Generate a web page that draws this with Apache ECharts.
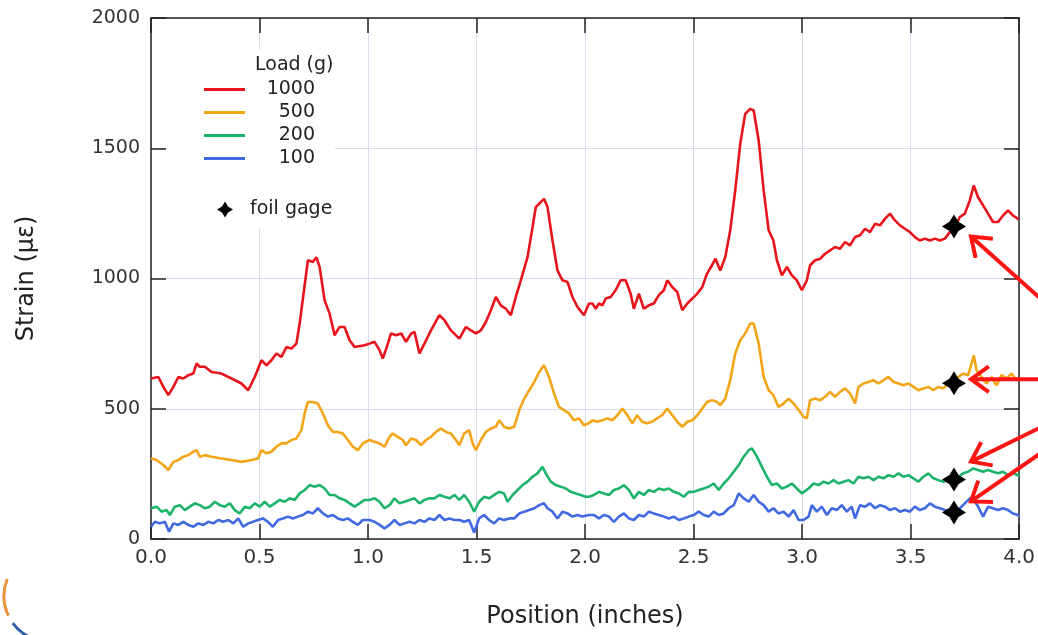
<!DOCTYPE html>
<html>
<head>
<meta charset="utf-8">
<title>Strain vs position</title>
<script src="https://cdn.jsdelivr.net/npm/echarts@6/dist/echarts.min.js"></script>
<style>
  html, body { margin: 0; padding: 0; background: #fff; }
  #chart { width: 1038px; height: 635px; }
</style>
</head>
<body>
<div id="chart"></div>
<script>
// values (position in inches, strain in microstrain)
const posRed = [0,0.034,0.057,0.080,0.103,0.126,0.149,0.172,0.195,0.210,0.225,0.248,0.279,0.325,0.371,0.417,0.448,0.478,0.509,0.532,0.555,0.578,0.601,0.624,0.647,0.670,0.685,0.705,0.723,0.746,0.762,0.777,0.800,0.823,0.846,0.869,0.892,0.915,0.938,0.984,1.007,
  1.030,1.053,1.068,1.084,1.106,1.130,1.153,1.175,1.199,1.214,1.237,1.260,1.290,1.329,1.352,1.382,1.421,1.451,1.474,1.497,1.520,1.543,1.566,1.589,1.612,1.635,1.658,1.681,1.704,1.735,1.758,1.773,1.796,1.811,1.827,1.850,1.873,1.896,1.919,1.942,1.965,1.995,2.018,
  2.034,2.049,2.064,2.080,2.095,2.118,2.141,2.164,2.187,2.210,2.225,2.248,2.271,2.294,2.317,2.340,2.363,2.379,2.402,2.425,2.448,2.471,2.494,2.517,2.540,2.562,2.585,2.601,2.623,2.646,2.669,2.692,2.715,2.738,2.761,2.777,2.800,2.823,2.846,2.868,2.884,2.907,2.930,2.953,2.976,2.999,
  3.007,3.022,3.037,3.060,3.084,3.106,3.129,3.152,3.175,3.198,3.221,3.244,3.267,3.290,3.313,3.336,3.359,3.382,3.405,3.428,3.451,3.474,3.497,3.520,3.543,3.566,3.589,3.612,3.635,3.658,3.681,3.704,3.727,3.750,3.773,3.791,3.811,3.834,3.857,3.880,3.903,3.926,3.949,3.972,3.995,4.0];
const strainRed = [616,622,584,552,584,622,616,629,635,674,661,661,641,635,616,597,571,622,686,667,686,712,699,737,731,750,827,955,1070,1063,1082,1044,916,865,782,814,814,763,737,744,750,
  757,725,693,731,789,782,789,757,789,795,712,750,801,859,840,801,769,814,801,789,801,833,878,929,897,884,859,929,993,1082,1197,1274,1293,1306,1274,1146,1031,993,987,929,891,859,904,
  904,884,904,897,923,929,955,993,993,942,884,942,884,897,904,936,955,993,967,948,878,904,923,942,967,1019,1051,1076,1031,1082,1185,1338,1517,1632,1651,1645,1530,1338,1185,1146,1070,1012,1044,1012,993,955,
  948,993,1051,1070,1076,1095,1108,1121,1114,1140,1127,1159,1166,1191,1178,1210,1204,1229,1249,1223,1204,1191,1178,1159,1146,1153,1146,1153,1146,1153,1178,1197,1236,1249,1300,1357,1312,1281,1249,1217,1217,1242,1261,1242,1229,1229];

const posOrange = [0,0.026,0.057,0.080,0.103,0.126,0.149,0.172,0.195,0.210,0.225,0.248,0.279,0.325,0.371,0.417,0.463,0.493,0.509,0.532,0.555,0.578,0.601,0.624,0.647,0.670,0.693,0.708,0.723,0.746,0.769,0.792,0.815,0.838,0.861,0.884,0.907,0.930,0.953,0.976,1.007,
  1.030,1.053,1.076,1.099,1.114,1.137,1.160,1.175,1.199,1.221,1.244,1.267,1.290,1.313,1.336,1.359,1.382,1.405,1.421,1.443,1.466,1.482,1.497,1.520,1.543,1.566,1.589,1.604,1.627,1.650,1.674,1.697,1.720,1.743,1.766,1.789,1.811,1.834,1.857,1.880,1.903,1.926,1.949,1.972,1.995,2.018,
  2.034,2.057,2.080,2.103,2.126,2.149,2.172,2.195,2.218,2.240,2.263,2.286,2.309,2.332,2.355,2.379,2.402,2.425,2.448,2.471,2.494,2.517,2.540,2.562,2.585,2.608,2.623,2.646,2.669,2.692,2.715,2.738,2.761,2.777,2.800,2.823,2.846,2.868,2.891,2.915,2.938,2.961,2.984,
  3.007,3.022,3.037,3.060,3.084,3.106,3.129,3.152,3.175,3.198,3.221,3.244,3.260,3.283,3.306,3.329,3.352,3.375,3.398,3.421,3.444,3.467,3.490,3.513,3.536,3.559,3.582,3.605,3.628,3.651,3.674,3.697,3.720,3.742,3.765,3.781,3.791,3.804,3.827,3.850,3.873,3.896,3.919,3.942,3.965,3.988,4.0];
const strainOrange = [309,303,284,265,296,303,316,322,335,341,316,322,316,309,303,296,303,309,341,329,335,354,367,367,380,386,418,482,526,526,520,482,437,411,411,405,380,354,341,367,380,
  373,367,354,392,405,392,380,360,386,380,360,380,392,411,424,411,405,380,360,405,418,367,341,380,411,424,431,456,431,424,431,495,539,571,603,641,667,622,559,507,495,482,456,463,437,444,
  456,450,456,463,456,475,501,475,444,475,450,444,450,463,475,501,475,450,431,450,456,475,501,526,533,526,514,539,610,712,763,789,827,827,750,622,571,552,507,520,539,520,495,
  469,463,533,539,533,546,565,546,565,578,559,520,584,597,603,610,597,610,622,603,597,590,597,584,571,578,584,571,584,578,597,616,622,635,629,674,705,648,622,597,622,590,629,616,635,610,616];

const posGreen = [0,0.026,0.049,0.072,0.087,0.110,0.133,0.156,0.179,0.202,0.225,0.248,0.271,0.294,0.317,0.340,0.363,0.386,0.409,0.432,0.455,0.478,0.501,0.524,0.547,0.570,0.593,0.616,0.639,0.662,0.685,0.708,0.731,0.754,0.777,0.800,0.823,0.846,0.869,0.892,0.915,0.938,0.961,0.984,1.007,
  1.030,1.053,1.076,1.099,1.122,1.145,1.168,1.191,1.214,1.237,1.260,1.283,1.306,1.329,1.352,1.375,1.398,1.421,1.443,1.466,1.489,1.512,1.535,1.558,1.581,1.604,1.627,1.643,1.666,1.689,1.712,1.735,1.758,1.781,1.804,1.819,1.842,1.865,1.888,1.911,1.934,1.957,1.980,2.003,2.018,
  2.041,2.064,2.087,2.110,2.133,2.156,2.179,2.202,2.225,2.248,2.271,2.294,2.317,2.340,2.363,2.386,2.409,2.432,2.455,2.478,2.501,2.524,2.547,2.570,2.593,2.616,2.639,2.662,2.685,2.708,2.731,2.754,2.769,2.792,2.815,2.838,2.861,2.884,2.907,2.930,2.953,2.976,2.999,
  3.007,3.030,3.053,3.076,3.099,3.122,3.145,3.168,3.191,3.214,3.237,3.260,3.283,3.306,3.329,3.352,3.375,3.398,3.421,3.444,3.467,3.490,3.513,3.536,3.559,3.582,3.605,3.628,3.651,3.674,3.697,3.720,3.742,3.765,3.788,3.811,3.834,3.857,3.880,3.903,3.926,3.949,3.972,3.995,4.0];
const strainGreen = [118,124,105,111,92,124,130,111,124,137,130,118,124,143,130,124,137,111,98,124,118,137,124,143,124,137,150,143,156,150,175,188,207,201,207,194,169,169,156,150,137,124,137,150,150,
  156,143,118,130,156,137,143,150,156,137,150,156,156,169,162,156,169,150,169,143,105,143,162,156,169,181,175,143,169,188,207,220,239,252,277,252,220,207,201,194,181,175,169,162,162,
  169,181,175,169,188,194,207,188,156,181,169,188,181,194,188,194,181,175,162,181,181,188,194,201,213,188,213,233,258,284,316,341,348,316,277,239,207,213,194,201,213,194,175,
  181,194,213,207,220,213,226,213,220,226,213,239,233,239,226,239,233,245,239,252,239,245,233,220,239,252,233,226,220,226,233,239,252,258,271,265,258,265,258,252,258,245,252,245,252];

const posBlue = [0,0.018,0.041,0.064,0.083,0.103,0.126,0.149,0.172,0.195,0.218,0.241,0.264,0.287,0.310,0.333,0.356,0.379,0.402,0.425,0.448,0.470,0.493,0.516,0.539,0.562,0.585,0.608,0.631,0.654,0.677,0.700,0.723,0.746,0.769,0.792,0.815,0.838,0.861,0.884,0.907,0.930,0.953,0.976,1.007,
  1.030,1.053,1.076,1.099,1.122,1.145,1.168,1.191,1.214,1.237,1.260,1.283,1.306,1.329,1.352,1.375,1.398,1.421,1.443,1.466,1.489,1.512,1.535,1.558,1.581,1.604,1.627,1.650,1.674,1.697,1.720,1.743,1.766,1.789,1.811,1.827,1.850,1.873,1.896,1.919,1.942,1.965,1.988,2.018,
  2.041,2.064,2.087,2.110,2.133,2.156,2.179,2.202,2.225,2.248,2.271,2.294,2.317,2.340,2.363,2.386,2.409,2.432,2.455,2.478,2.501,2.524,2.547,2.570,2.593,2.616,2.639,2.662,2.685,2.708,2.731,2.754,2.777,2.800,2.823,2.846,2.868,2.891,2.915,2.938,2.961,2.984,
  3.007,3.030,3.045,3.068,3.091,3.114,3.137,3.160,3.183,3.206,3.229,3.244,3.267,3.290,3.313,3.336,3.359,3.382,3.405,3.428,3.451,3.474,3.497,3.520,3.543,3.566,3.589,3.612,3.635,3.658,3.681,3.704,3.727,3.750,3.773,3.788,3.811,3.834,3.857,3.880,3.903,3.926,3.949,3.972,3.995,4.0];
const strainBlue = [47,66,60,66,28,60,54,66,54,47,60,54,66,60,73,66,73,60,79,47,60,66,73,79,66,47,73,79,86,79,86,92,105,98,118,98,86,92,79,73,79,66,54,73,73,
  66,54,41,54,73,54,60,66,60,73,66,79,73,92,73,79,73,73,66,73,25,79,92,73,60,79,73,79,79,98,105,111,118,130,137,118,105,79,105,98,86,92,86,92,
  92,79,92,86,66,86,98,79,73,92,86,105,98,92,86,79,86,73,79,86,92,105,92,86,105,92,98,118,130,175,156,143,169,143,130,105,118,98,105,86,111,73,
  73,86,130,105,124,92,118,111,130,105,124,79,130,124,137,118,130,124,111,118,105,111,105,124,111,118,137,124,118,111,105,111,118,137,156,156,124,86,124,118,111,118,111,98,92,86];

// foil gage readings
const gagePos = 3.7;
const gageStrain = [1200, 598, 228, 102];

const loads = ['1000', '500', '200', '100'];
const lineColors = ['#e8141c', '#f2a516', '#1db36a', '#4169e1'];
const xTicks = { min: 0, max: 4, step: 0.5 };
const yTicks = { min: 0, max: 2000, step: 500 };

const FONT = 'DejaVu Sans';
const STAR = 'path://M10,0 L13.8,6.2 L20,10 L13.8,13.8 L10,20 L6.2,13.8 L0,10 L6.2,6.2 Z';

function pairs(xs, ys) {
  return xs.map((x, i) => [x, ys[i]]);
}

const lineData = [
  pairs(posRed, strainRed),
  pairs(posOrange, strainOrange),
  pairs(posGreen, strainGreen),
  pairs(posBlue, strainBlue)
];

const chart = echarts.init(document.getElementById('chart'), null, { renderer: 'canvas' });

// frame axes: bottom/left carry labels, top/right only ticks
const tickStyle = { show: true, inside: true, length: 15, lineStyle: { color: '#222', width: 1.5 } };
const frameLine = { show: true, onZero: false, lineStyle: { color: '#222', width: 1.5 } };

const option = {
  animation: false,
  backgroundColor: '#fff',
  title: {
    text: 'Load (g)',
    left: 255,
    top: 56,
    padding: 0,
    textStyle: { fontFamily: FONT, fontSize: 19, fontWeight: 'normal', color: '#222' }
  },
  grid: { left: 151, right: 17, top: 18, bottom: 96 },
  legend: [
    {
      data: loads.map(n => ({ name: n, icon: 'rect' })),
      orient: 'vertical',
      left: 204,
      top: 80,
      padding: 0,
      itemWidth: 41,
      itemHeight: 3,
      itemGap: 4,
      formatter: name => '{n|' + name + '}',
      textStyle: {
        rich: { n: { width: 65, align: 'right', fontFamily: FONT, fontSize: 19, color: '#222', lineHeight: 20 } }
      }
    },
    {
      data: [{ name: 'foil gage', icon: STAR, itemStyle: { color: '#000', opacity: 1 } }],
      left: 217,
      top: 200,
      padding: 0,
      itemWidth: 16,
      itemHeight: 16,
      formatter: name => '{n|' + name + '}',
      textStyle: {
        rich: { n: { padding: [0, 0, 0, 12], fontFamily: FONT, fontSize: 19, color: '#222', lineHeight: 20 } }
      }
    }
  ],
  xAxis: [
    {
      type: 'value',
      min: xTicks.min, max: xTicks.max, interval: xTicks.step,
      name: 'Position (inches)',
      nameLocation: 'middle',
      nameGap: 66,
      nameTextStyle: { fontFamily: FONT, fontSize: 24, color: '#222' },
      axisLine: frameLine,
      axisTick: tickStyle,
      axisLabel: { formatter: v => v.toFixed(1), fontFamily: FONT, fontSize: 20, color: '#333', margin: 9 },
      splitLine: { show: true, lineStyle: { color: '#d9dcef', width: 1 } }
    },
    {
      type: 'value', position: 'top',
      min: xTicks.min, max: xTicks.max, interval: xTicks.step,
      axisLine: frameLine, axisTick: tickStyle,
      axisLabel: { show: false }, splitLine: { show: false }
    }
  ],
  yAxis: [
    {
      type: 'value',
      min: yTicks.min, max: yTicks.max, interval: yTicks.step,
      name: 'Strain (με)',
      nameLocation: 'middle',
      nameGap: 112,
      nameTextStyle: { fontFamily: FONT, fontSize: 24, color: '#222' },
      axisLine: frameLine,
      axisTick: tickStyle,
      axisLabel: { formatter: v => String(v), fontFamily: FONT, fontSize: 19, color: '#333', margin: 11 },
      splitLine: { show: true, lineStyle: { color: '#d9dcef', width: 1 } }
    },
    {
      type: 'value', position: 'right',
      min: yTicks.min, max: yTicks.max, interval: yTicks.step,
      axisLine: frameLine, axisTick: tickStyle,
      axisLabel: { show: false }, splitLine: { show: false }
    }
  ],
  series: loads.map((name, i) => ({
    name: name,
    type: 'line',
    data: lineData[i],
    symbol: 'none',
    showSymbol: false,
    color: lineColors[i],
    lineStyle: { color: lineColors[i], width: 2.6 },
    z: 3 + (3 - i)
  })).concat([{
    name: 'foil gage',
    type: 'scatter',
    data: gageStrain.map(v => [gagePos, v]),
    symbol: STAR,
    symbolSize: 24,
    symbolKeepAspect: true,
    itemStyle: { color: '#000', opacity: 1 },
    z: 10
  }])
};

chart.setOption(option);

// red call-out arrows pointing at the gage markers
const arrowTipOffset = [[17, 10], [17, -4], [17, -18], [17, -11]];
const arrowTailDir = [[67, 60], [1, 0], [65, -32], [65, -45]];

function rot(v, a) {
  return [v[0] * Math.cos(a) - v[1] * Math.sin(a), v[0] * Math.sin(a) + v[1] * Math.cos(a)];
}

const graphics = [
  // white box behind the legend
  { type: 'rect', shape: { x: 168, y: 50, width: 167, height: 178 }, style: { fill: '#fff' }, z: 1, silent: true },
  // bits of a logo at the bottom-left edge
  { type: 'arc', shape: { cx: 50, cy: 596, r: 46, startAngle: Math.PI * 0.86, endAngle: Math.PI * 1.12 }, style: { stroke: '#e8923a', lineWidth: 3, fill: null }, silent: true },
  { type: 'arc', shape: { cx: 50, cy: 596, r: 46, startAngle: Math.PI * 0.66, endAngle: Math.PI * 0.8 }, style: { stroke: '#2f5fa8', lineWidth: 3, fill: null }, silent: true }
];

gageStrain.forEach((v, i) => {
  const p = chart.convertToPixel({ seriesIndex: 4 }, [gagePos, v]);
  const tip = [p[0] + arrowTipOffset[i][0], p[1] + arrowTipOffset[i][1]];
  const d = arrowTailDir[i];
  const len = Math.hypot(d[0], d[1]);
  const u = [d[0] / len, d[1] / len];
  const tail = [tip[0] + u[0] * 140, tip[1] + u[1] * 140];
  const a1 = rot(u, Math.PI / 5), a2 = rot(u, -Math.PI / 5);
  const head = [[tip[0] + a1[0] * 22, tip[1] + a1[1] * 22], tip, [tip[0] + a2[0] * 22, tip[1] + a2[1] * 22]];
  graphics.push({ type: 'polyline', shape: { points: [tip, tail] }, style: { stroke: '#ff1414', lineWidth: 4, fill: null }, z: 20, silent: true });
  graphics.push({ type: 'polyline', shape: { points: head }, style: { stroke: '#ff1414', lineWidth: 4, fill: null, lineJoin: 'miter' }, z: 20, silent: true });
});

chart.setOption({ graphic: graphics });
</script>
</body>
</html>
